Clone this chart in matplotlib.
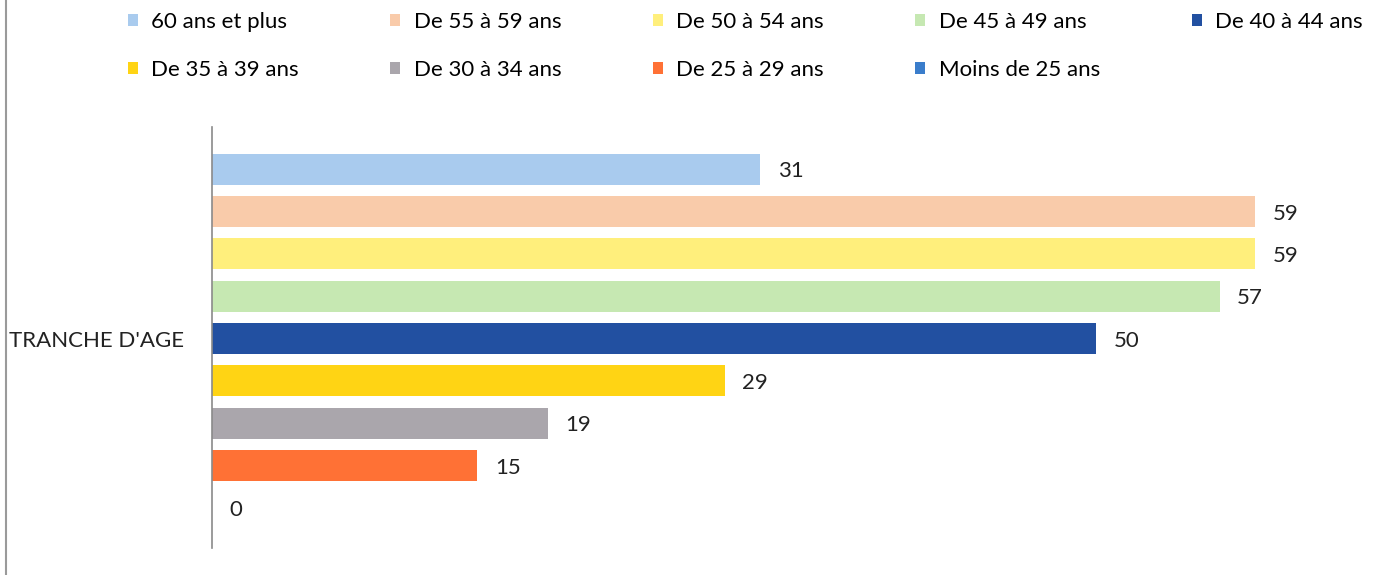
import matplotlib
matplotlib.use("Agg")
import matplotlib.pyplot as plt
from matplotlib.patches import Patch
from matplotlib.lines import Line2D

plt.rcParams['font.family'] = ['Lato', 'DejaVu Sans']

categories = ["60 ans et plus", "De 55 à 59 ans", "De 50 à 54 ans", "De 45 à 49 ans",
              "De 40 à 44 ans", "De 35 à 39 ans", "De 30 à 34 ans", "De 25 à 29 ans",
              "Moins de 25 ans"]
values = [31, 59, 59, 57, 50, 29, 19, 15, 0]
colors = ["#A9CBEE", "#F9CBAA", "#FFEF7C", "#C6E8B2", "#2250A1",
          "#FFD414", "#AAA6AC", "#FF7135", "#3A7DCB"]
group_label = "TRANCHE D'AGE"

W, H = 1376, 575
fig = plt.figure(figsize=(W / 100, H / 100), dpi=100)
left, right, top, bottom = 212, 1361, 127, 548
ax = fig.add_axes([left / W, 1 - bottom / H, (right - left) / W, (bottom - top) / H])

pos = list(range(len(values)))
ax.barh(pos, values, height=0.73, color=colors)
for p, v in zip(pos, values):
    ax.text(v + 1.0, p + 0.05, str(v), va='center', ha='left', fontsize=16, color='#222222')

ax.set_xlim(0, 65)
ax.set_ylim(8.95, -1.0)
for s in ['top', 'right', 'bottom']:
    ax.spines[s].set_visible(False)
ax.spines['left'].set_color('#8a8a8a')
ax.spines['left'].set_linewidth(1.2)
ax.set_xticks([])
ax.set_yticks([4])
ax.set_yticklabels([group_label], fontsize=16, color='#222222')
ax.tick_params(axis='y', length=0, pad=20)

# Legend: row-major ordering in 5 columns
order = [0, 5, 1, 6, 2, 7, 3, 8, 4]
handles = [Patch(facecolor=colors[i], edgecolor='none', label=categories[i]) for i in order]
fig.legend(handles=handles, loc='upper left', bbox_to_anchor=(119 / W, 1 - 3 / H),
           ncol=5, frameon=False, fontsize=16, handlelength=0.45, handleheight=0.45,
           handletextpad=0.6, columnspacing=4.12, labelspacing=1.25, borderaxespad=0)

# left border line
fig.add_artist(Line2D([6 / W, 6 / W], [0, 1], transform=fig.transFigure,
                      color='#9a9a9a', linewidth=1.5))

fig.savefig("out.png", dpi=100)
